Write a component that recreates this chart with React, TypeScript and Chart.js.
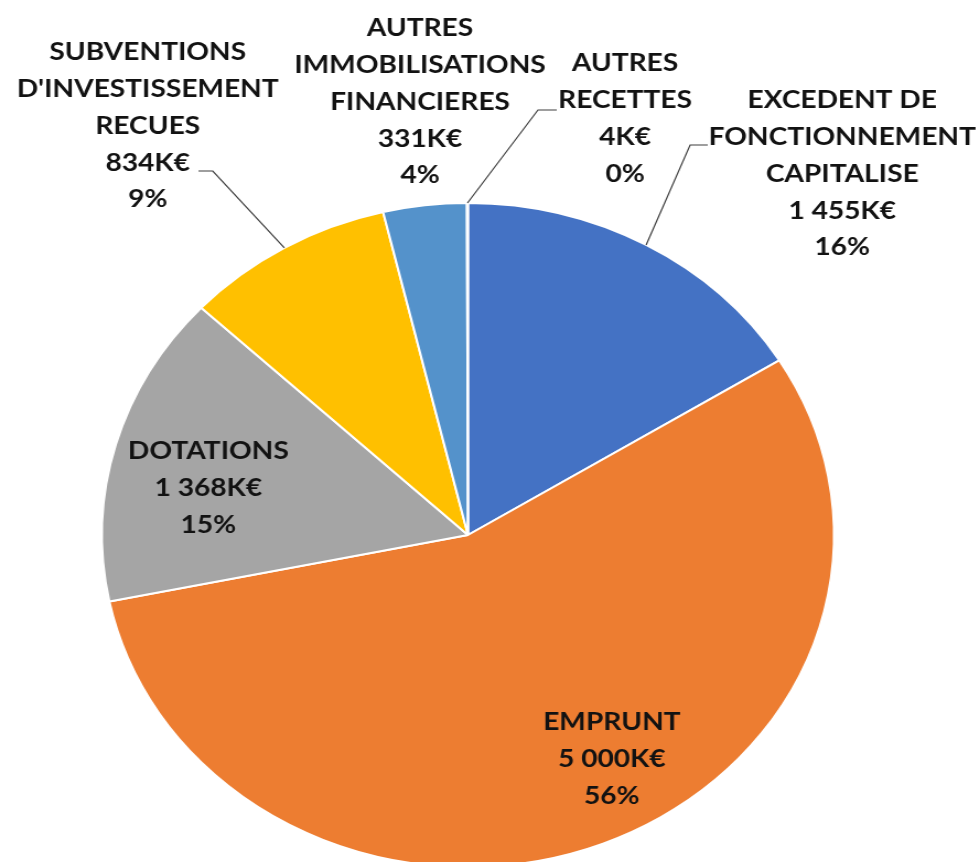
import React, { useEffect, useRef } from "react";
import { Chart, registerables } from "chart.js";

Chart.register(...registerables);

// ---- data ----
const categories: string[][] = [
  ["EXCEDENT DE", "FONCTIONNEMENT", "CAPITALISE"],
  ["EMPRUNT"],
  ["DOTATIONS"],
  ["SUBVENTIONS", "D'INVESTISSEMENT", "RECUES"],
  ["AUTRES", "IMMOBILISATIONS", "FINANCIERES"],
  ["AUTRES", "RECETTES"],
];
const values: number[] = [1455, 5000, 1368, 834, 331, 4];
const colors: string[] = ["#4472C4", "#ED7D31", "#A5A5A5", "#FFC000", "#5492CB", "#70AD47"];

// ---- label layout (unstretched canvas px) ----
const labelX: number[] = [764, 555, 189, 134, 381, 567];
const labelTopY: number[] = [100, 722, 451, 52, 28, 63];
// leader: [elbowX, elbowY, endX, endY] or null
const leaders: (number[] | null)[] = [
  [626, 145, 642, 145],
  null,
  null,
  [193, 171, 180, 171],
  null,
  [488, 110, 505, 110],
];

const STRETCH = 1.1024;
const CW = 888;
const CH = 880;
const LINE_STEP = 36.8;

function fmtK(v: number): string {
  const s = String(v);
  return s.replace(/\B(?=(\d{3})+(?!\d))/g, " ") + "K\u20AC";
}

const labelPlugin = {
  id: "pieLabels",
  afterDraw(chart: any) {
    const ctx = chart.ctx;
    const meta = chart.getDatasetMeta(0);
    const total = values.reduce((a, b) => a + b, 0);
    ctx.save();
    // leaders
    ctx.strokeStyle = "#3f3f3f";
    ctx.lineWidth = 1.2;
    meta.data.forEach((arc: any, i: number) => {
      const l = leaders[i];
      if (!l) return;
      const p = arc.getProps(["x", "y", "startAngle", "endAngle", "outerRadius"], true);
      const mid = (p.startAngle + p.endAngle) / 2;
      const sx = p.x + Math.cos(mid) * p.outerRadius;
      const sy = p.y + Math.sin(mid) * p.outerRadius;
      ctx.beginPath();
      ctx.moveTo(sx, sy);
      ctx.lineTo(l[0], l[1]);
      ctx.lineTo(l[2], l[3]);
      ctx.stroke();
    });
    // texts
    ctx.fillStyle = "#121212";
    ctx.font = "bold 25.5px Lato";
    ctx.textAlign = "center";
    ctx.textBaseline = "middle";
    categories.forEach((lines, i) => {
      const all = [...lines, fmtK(values[i]), Math.round((values[i] / total) * 100) + "%"];
      all.forEach((t, j) => {
        ctx.fillText(t, labelX[i], labelTopY[i] + j * LINE_STEP);
      });
    });
    ctx.restore();
  },
};

export default function App() {
  const ref = useRef<HTMLCanvasElement | null>(null);
  useEffect(() => {
    if (!ref.current) return;
    const chart = new Chart(ref.current, {
      type: "pie",
      data: {
        labels: categories,
        datasets: [
          {
            data: values,
            backgroundColor: colors,
            borderColor: "#ffffff",
            borderWidth: 2,
          },
        ],
      },
      options: {
        animation: false,
        responsive: false,
        devicePixelRatio: 1,
        radius: 332,
        layout: { padding: { left: 92, right: 131, top: 203, bottom: 13 } },
        plugins: {
          legend: { display: false },
          tooltip: { enabled: false },
        },
      } as any,
      plugins: [labelPlugin],
    });
    return () => chart.destroy();
  }, []);
  return (
    <div
      style={{
        position: "fixed",
        left: 0,
        top: 0,
        width: 979,
        height: 862,
        overflow: "hidden",
        background: "#ffffff",
      }}
    >
      <div style={{ transform: `scaleX(${STRETCH})`, transformOrigin: "0 0", width: CW, height: CH }}>
        <canvas ref={ref} width={CW} height={CH} style={{ width: CW, height: CH, display: "block" }} />
      </div>
    </div>
  );
}
